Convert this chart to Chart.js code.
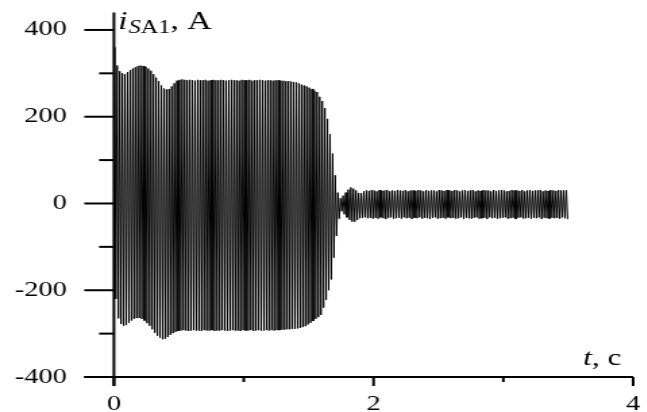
<!DOCTYPE html>
<html>
<head>
<meta charset="utf-8">
<script src="https://cdn.jsdelivr.net/npm/chart.js"></script>
<style>
  html, body { margin: 0; padding: 0; background: #fff; overflow: hidden; }
  /* the original figure is stretched sideways, so draw narrow and stretch */
  #wrap { width: 479px; height: 412px; transform: scaleX(1.35); transform-origin: 0 0; }
</style>
</head>
<body>
<div id="wrap"><canvas id="chart"></canvas></div>
<script>
// Peak values of i_SA1 (A), one upper and one lower peak per 50 Hz cycle
const halfPeriod = 0.01; // s

const upperPeaks = [
  360, 318, 305, 300, 298, 303, 307, 311, 314, 317,
  318, 317, 315, 311, 306, 298, 290, 282, 272, 265,
  263, 264, 270, 277, 283, 285, 286, 285, 284, 285,
  284, 283, 285, 284, 284, 285, 283, 284, 285, 284,
  284, 285, 284, 283, 284, 285, 284, 284, 283, 285,
  284, 284, 285, 283, 284, 284, 285, 284, 283, 284,
  284, 283, 284, 284, 283, 283, 282, 282, 281, 280,
  279, 277, 274, 272, 270, 267, 264, 260, 257, 246,
  236, 220, 195, 160, 115, 65, 25, 12, 18, 25,
  32, 37, 34, 30, 24, 24, 28, 30, 29, 31,
  30, 28, 31, 29, 30, 31, 28, 30, 29, 31,
  30, 29, 31, 28, 30, 30, 29, 31, 30, 28,
  31, 29, 30, 30, 28, 31, 30, 29, 31, 30,
  29, 31, 30, 28, 30, 31, 29, 30, 31, 28,
  30, 29, 31, 30, 30, 28, 31, 29, 30, 31,
  30, 28, 29, 31, 30, 30, 29, 31, 28, 30,
  31, 29, 30, 30, 31, 28, 30, 29, 31, 30,
  29, 31, 30, 30, 31
];

const lowerPeaks = [
  -220, -265, -278, -282, -280, -275, -270, -266, -264, -264,
  -266, -270, -276, -282, -290, -298, -305, -310, -313, -312,
  -308, -303, -299, -296, -294, -293, -292, -293, -294, -293,
  -292, -293, -293, -294, -292, -293, -293, -292, -294, -293,
  -293, -292, -293, -294, -293, -292, -293, -293, -294, -292,
  -293, -293, -292, -294, -293, -292, -293, -293, -292, -293,
  -292, -293, -292, -292, -291, -291, -290, -290, -289, -289,
  -288, -287, -285, -283, -279, -275, -271, -266, -262, -257,
  -240, -222, -200, -175, -125, -75, -35, -18, -25, -32,
  -38, -42, -42, -38, -34, -33, -32, -34, -33, -35,
  -33, -35, -32, -34, -36, -33, -32, -35, -34, -33,
  -35, -32, -34, -33, -36, -33, -34, -32, -35, -33,
  -34, -36, -33, -32, -35, -34, -33, -35, -32, -34,
  -33, -35, -34, -32, -36, -33, -34, -35, -33, -32,
  -35, -34, -33, -36, -32, -34, -33, -35, -34, -33,
  -32, -35, -34, -33, -36, -33, -32, -35, -34, -33,
  -35, -33, -34, -32, -36, -33, -34, -35, -33, -34,
  -33, -35, -32, -34, -36
];

const xMajor = [0, 2, 4];
const yMajor = [-400, -200, 0, 200, 400];

// zigzag through the peaks
const points = [{ x: 0, y: 0 }];
upperPeaks.forEach(function(v, k) {
  points.push({ x: +(2 * k * halfPeriod + halfPeriod / 2).toFixed(3), y: v });
  points.push({ x: +(2 * k * halfPeriod + 1.5 * halfPeriod).toFixed(3), y: lowerPeaks[k] });
});

const serif = '"Liberation Serif", "Times New Roman", serif';
const tickFont = { family: serif, size: 21 };

// axes, tick marks and axis titles
const axesPlugin = {
  id: 'axes',
  afterDraw(chart) {
    const ctx = chart.ctx;
    const a = chart.chartArea;
    const xs = chart.scales.x, ys = chart.scales.y;
    ctx.save();
    ctx.strokeStyle = '#000';
    ctx.lineWidth = 2;
    function seg(x1, y1, x2, y2) {
      ctx.beginPath(); ctx.moveTo(x1, y1); ctx.lineTo(x2, y2); ctx.stroke();
    }
    seg(a.left, a.top, a.left, a.bottom + 9);
    seg(a.left - 22, a.bottom, a.right, a.bottom);
    ys.ticks.forEach(function(t) {
      const py = ys.getPixelForValue(t.value);
      const len = yMajor.includes(t.value) ? 22 : 11;
      seg(a.left - len, py, a.left, py);
    });
    xs.ticks.forEach(function(t) {
      const px = xs.getPixelForValue(t.value);
      const len = xMajor.includes(t.value) ? 9 : 5;
      seg(px, a.bottom, px, a.bottom + len);
    });

    ctx.fillStyle = '#000';
    ctx.textBaseline = 'alphabetic';
    ctx.textAlign = 'left';
    // i_SA1, A
    let x0 = a.left + 3;
    ctx.font = 'italic 25px ' + serif;
    ctx.fillText('i', x0, 29);
    x0 += ctx.measureText('i').width + 1;
    ctx.font = 'italic 18px ' + serif;
    ctx.fillText('S', x0, 33);
    x0 += ctx.measureText('S').width;
    ctx.font = '18px ' + serif;
    ctx.fillText('A1', x0, 33);
    x0 += ctx.measureText('A1').width;
    ctx.font = '25px ' + serif;
    ctx.fillText(', A', x0, 29);
    // t, c
    let x1 = 432;
    ctx.font = 'italic 23px ' + serif;
    ctx.fillText('t', x1, 365);
    x1 += ctx.measureText('t').width;
    ctx.font = '23px ' + serif;
    ctx.fillText(', c', x1, 365);
    ctx.restore();
  }
};

const ctx = document.getElementById('chart').getContext('2d');
const chart = new Chart(ctx, {
  type: 'line',
  data: {
    datasets: [{
      label: 'iSA1',
      data: points,
      borderColor: '#000',
      borderWidth: 1,
      pointRadius: 0,
      fill: false,
      tension: 0
    }]
  },
  options: {
    responsive: true,
    maintainAspectRatio: false,
    animation: false,
    layout: { padding: { top: 9, right: 10, left: 0, bottom: 0 } },
    plugins: { legend: { display: false }, tooltip: { enabled: false } },
    scales: {
      x: {
        type: 'linear',
        min: 0,
        max: 4,
        grid: { display: false, drawTicks: true, tickLength: 11 },
        border: { display: false },
        ticks: {
          stepSize: 1,
          autoSkip: false,
          maxRotation: 0,
          padding: 4,
          color: '#000',
          font: tickFont,
          callback: function(v) { return xMajor.includes(v) ? String(v) : ''; }
        },
        afterFit: function(s) { s.height = 35; }
      },
      y: {
        min: -400,
        max: 440,
        grid: { display: false, drawTicks: true, tickLength: 35 },
        border: { display: false },
        ticks: {
          stepSize: 100,
          includeBounds: false,
          autoSkip: false,
          padding: 0,
          color: '#000',
          font: tickFont,
          callback: function(v) { return yMajor.includes(v) ? String(v) : ''; }
        },
        afterFit: function(s) { s.width = 84.4; }
      }
    }
  },
  plugins: [axesPlugin]
});
</script>
</body>
</html>
